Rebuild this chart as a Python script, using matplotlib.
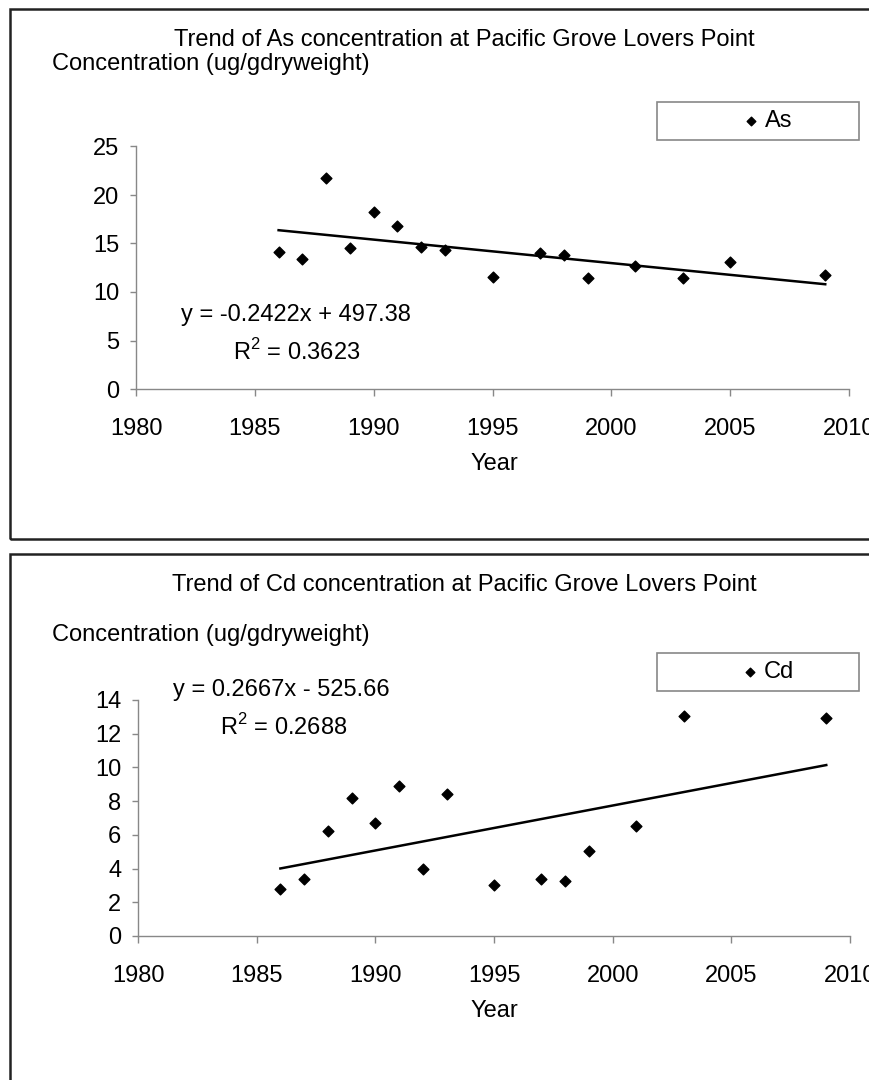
import numpy as np
import matplotlib
matplotlib.use("Agg")
import matplotlib.pyplot as plt
from matplotlib.patches import Rectangle

plt.rcParams['font.family'] = ['Liberation Sans', 'DejaVu Sans']
plt.rcParams['mathtext.fontset'] = 'custom'
plt.rcParams['mathtext.rm'] = 'Liberation Sans'

# data
as_years = [1986, 1987, 1988, 1989, 1990, 1991, 1992, 1993, 1995, 1997, 1998, 1999, 2001, 2003, 2005, 2009]
as_conc = [14.1, 13.4, 21.8, 14.5, 18.2, 16.8, 14.6, 14.3, 11.5, 14.0, 13.8, 11.4, 12.7, 11.4, 13.1, 11.8]
as_fit = (-0.2422, 497.38)
as_r2 = 0.3623

cd_years = [1986, 1987, 1988, 1989, 1990, 1991, 1992, 1993, 1995, 1997, 1998, 1999, 2001, 2003, 2009]
cd_conc = [2.77, 3.38, 6.21, 8.2, 6.72, 8.91, 3.95, 8.42, 3.03, 3.40, 3.26, 5.04, 6.50, 13.07, 12.93]
cd_fit = (0.2667, -525.66)
cd_r2 = 0.2688

W, H = 870, 1080
FS = 17
fig = plt.figure(figsize=(W / 100, H / 100), dpi=100)


def fx(px):
    return px / W


def fy(py):
    return 1 - py / H


def panel(name, years, conc, fit, r2, box, ax_px, ymax, ystep, leg_px, eq_px, r2_px, title_y, ylab_y, year_y):
    # outer frame of the chart object
    x0, y0, x1, y1 = box
    fig.patches.append(Rectangle((fx(x0), fy(y1)), fx(x1 - x0), (y1 - y0) / H,
                                 transform=fig.transFigure, fill=False,
                                 edgecolor='#222222', linewidth=1.8, clip_on=False))

    l, t, r, b = ax_px
    ax = fig.add_axes([fx(l), fy(b), fx(r - l), (b - t) / H])
    ax.scatter(years, conc, marker='D', s=30, color='black', label=name, zorder=3)
    xs = np.array([years[0], years[-1]])
    ax.plot(xs, fit[0] * xs + fit[1], color='black', linewidth=1.8, zorder=2)

    ax.set_xlim(1980, 2010)
    ax.set_ylim(0, ymax)
    ax.set_xticks(np.arange(1980, 2011, 5))
    ax.set_yticks(np.arange(0, ymax + 0.1, ystep))
    for s in ['top', 'right']:
        ax.spines[s].set_visible(False)
    for s in ['left', 'bottom']:
        ax.spines[s].set_color('#888888')
        ax.spines[s].set_linewidth(1.0)
    ax.tick_params(axis='both', colors='#888888', labelcolor='black', labelsize=FS,
                   length=5, width=1.0, direction='out')
    ax.tick_params(axis='x', pad=16)
    ax.tick_params(axis='y', pad=8, length=4)

    fig.text(fx(464), fy(title_y), f"Trend of {name} concentration at Pacific Grove Lovers Point",
             ha='center', va='center', fontsize=FS)
    fig.text(fx(52), fy(ylab_y), "Concentration (ug/gdryweight)", ha='left', va='center', fontsize=FS)
    fig.text(fx(494), fy(year_y), "Year", ha='center', va='center', fontsize=FS)

    sign = '+' if fit[1] >= 0 else '-'
    fig.text(fx(eq_px[0]), fy(eq_px[1]), f"y = {fit[0]:.4f}x {sign} {abs(fit[1]):.2f}",
             ha='left', va='center', fontsize=FS)
    fig.text(fx(r2_px[0]), fy(r2_px[1]), f"R$^2$ = {r2:.4f}", ha='left', va='center', fontsize=FS)

    lx0, ly0, lx1, ly1 = leg_px
    fig.patches.append(Rectangle((fx(lx0), fy(ly1)), fx(lx1 - lx0), (ly1 - ly0) / H,
                                 transform=fig.transFigure, fill=False,
                                 edgecolor='#888888', linewidth=1.2))
    ax.legend(loc='center', bbox_to_anchor=(fx((lx0 + lx1) / 2 + 8), fy((ly0 + ly1) / 2)),
              bbox_transform=fig.transFigure, frameon=False, fontsize=FS,
              handletextpad=0.1, handlelength=1.0, markerscale=0.8)
    return ax


panel('As', as_years, as_conc, as_fit, as_r2,
      box=(10, 9, 900, 539), ax_px=(136, 146.5, 849, 389), ymax=25, ystep=5,
      leg_px=(657, 102, 859, 140), eq_px=(181, 315), r2_px=(233, 352),
      title_y=40, ylab_y=64, year_y=464)

panel('Cd', cd_years, cd_conc, cd_fit, cd_r2,
      box=(10, 554, 900, 1100), ax_px=(138, 700, 850, 936), ymax=14, ystep=2,
      leg_px=(657, 653, 859, 691), eq_px=(173, 690), r2_px=(220, 727),
      title_y=585, ylab_y=635, year_y=1011)

fig.savefig('out.png', dpi=100)
